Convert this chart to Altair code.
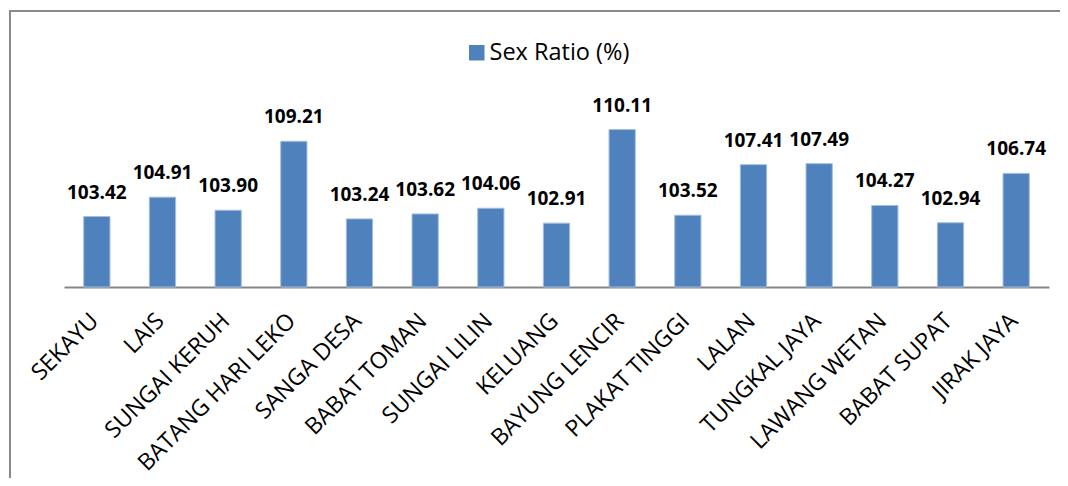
import altair as alt
import pandas as pd

categories = ["SEKAYU", "LAIS", "SUNGAI KERUH", "BATANG HARI LEKO", "SANGA DESA",
              "BABAT TOMAN", "SUNGAI LILIN", "KELUANG", "BAYUNG LENCIR", "PLAKAT TINGGI",
              "LALAN", "TUNGKAL JAYA", "LAWANG WETAN", "BABAT SUPAT", "JIRAK JAYA"]
values = [103.42, 104.91, 103.90, 109.21, 103.24, 103.62, 104.06, 102.91, 110.11, 103.52,
          107.41, 107.49, 104.27, 102.94, 106.74]
series_name = "Sex Ratio (%)"
axis_min = 98

df = pd.DataFrame({"Kecamatan": categories, "Nilai": values, "Seri": series_name})
df["Label"] = [f"{v:.2f}" for v in values]

FONT = "Open Sans"
W, H = 985, 182
PAD_L, PAD_T = 56, 97
PAD_R = 1052 - PAD_L - W
PAD_B = 470 - PAD_T - H

x = alt.X("Kecamatan:N", sort=categories,
          scale=alt.Scale(paddingInner=0.6, paddingOuter=0.3),
          axis=alt.Axis(title=None, labelAngle=-45, labelFont=FONT, labelFontSize=23,
                        labelColor="#000000", domainColor="#868686", domainWidth=2,
                        ticks=False, labelPadding=30, labelOffset=-2, labelAlign="right",
                        labelBaseline="middle", labelLimit=0, grid=False))
y = alt.Y("Nilai:Q", scale=alt.Scale(domain=[98, 112], zero=False, nice=False),
          axis=None)

bars = alt.Chart(df).mark_bar(stroke="#A3BEDF", strokeWidth=1).encode(
    x=x, y=y, y2=alt.datum(axis_min),
    color=alt.Color("Seri:N", scale=alt.Scale(range=["#4F81BD"]),
                    legend=alt.Legend(title=None, orient="none", legendX=401, legendY=-64,
                                      symbolType="square", symbolSize=240,
                                      symbolStrokeWidth=0, labelFont=FONT,
                                      labelFontSize=23.5, labelColor="#000000",
                                      labelOffset=1, padding=0))
)

texts = alt.Chart(df).mark_text(font=FONT, fontSize=19, fontWeight="bold", color="#000000",
                                baseline="alphabetic", dy=-18).encode(
    x=alt.X("Kecamatan:N", sort=categories), y="Nilai:Q", text="Label:N")

frame = alt.Chart(pd.DataFrame({"k": [0]})).mark_rect(
    fill=None, stroke="#898989", strokeWidth=2, clip=False).encode(
    x=alt.value(-54), x2=alt.value(W + PAD_R + 20), y=alt.value(-94), y2=alt.value(H + PAD_B + 20))

chart = alt.layer(frame, bars, texts).properties(
    width=W, height=H,
    autosize=alt.AutoSizeParams(type="none"),
    padding={"left": PAD_L, "top": PAD_T, "right": PAD_R, "bottom": PAD_B},
).configure_view(stroke=None)

chart.save("out.html", embed_options={"renderer": "svg", "actions": False})
